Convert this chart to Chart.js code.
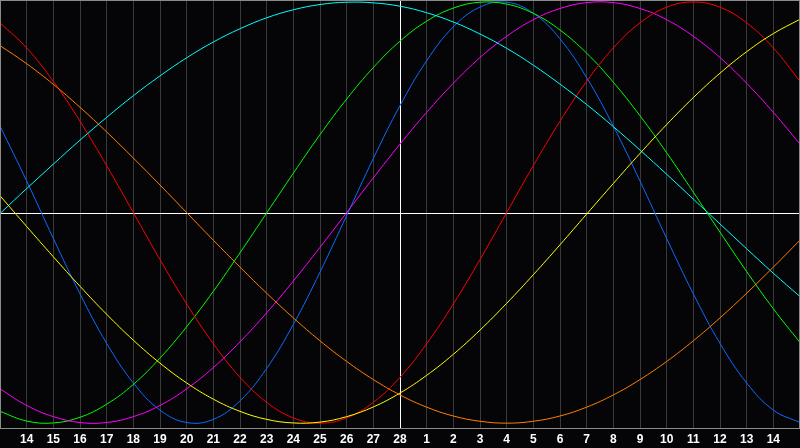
<!DOCTYPE html>
<html>
<head>
<meta charset="utf-8">
<script src="https://cdn.jsdelivr.net/npm/chart.js@4/dist/chart.umd.min.js"></script>
<style>
html,body{margin:0;padding:0;background:#050508;}
#wrap{width:800px;height:448px;position:relative;}
</style>
</head>
<body>
<div id="wrap"><canvas id="c"></canvas></div>
<script>
// day offsets relative to the marked day (28)
const days = [-15,-14,-13,-12,-11,-10,-9,-8,-7,-6,-5,-4,-3,-2,-1,0,1,2,3,4,5,6,7,8,9,10,11,12,13,14,15];
const tickLabels = ['14','15','16','17','18','19','20','21','22','23','24','25','26','27','28','1','2','3','4','5','6','7','8','9','10','11','12','13','14'];

const physical     = [41.1,15.0,-12.3,-38.6,-62.1,-80.9,-93.8,-99.7,-98.2,-89.4,-74.0,-53.1,-28.3,-1.4,25.7,50.8,72.1,88.2,97.6,99.9,94.7,82.5,64.1,41.1,15.0,-12.3,-38.6,-62.1,-80.9,-93.8,-99.7];
const emotional    = [90.1,78.2,62.3,43.4,22.3,0,-22.3,-43.4,-62.3,-78.2,-90.1,-97.5,-100,-97.5,-90.1,-78.2,-62.3,-43.4,-22.3,0,22.3,43.4,62.3,78.2,90.1,97.5,100,97.5,90.1,78.2,62.3];
const intellectual = [-94.4,-99.0,-99.9,-97.2,-91.0,-81.6,-69.1,-54.2,-37.4,-19.1,-0.2,18.7,37.0,53.9,68.9,81.4,90.9,97.1,99.9,99.0,94.6,86.7,75.7,61.9,46.0,28.4,9.7,-9.3,-28.0,-45.7,-61.7];
const intuitive    = [-83.7,-91.6,-96.9,-99.7,-99.7,-96.9,-91.6,-83.7,-73.6,-61.4,-47.6,-32.5,-16.5,0,16.5,32.5,47.6,61.4,73.6,83.7,91.6,96.9,99.7,99.7,96.9,91.6,83.7,73.6,61.4,47.6,32.5];
const aesthetic    = [8.0,-6.6,-21.0,-35.0,-48.3,-60.6,-71.5,-80.9,-88.6,-94.4,-98.2,-99.9,-99.5,-96.9,-92.3,-85.7,-77.3,-67.3,-55.8,-43.1,-29.5,-15.3,-0.7,13.8,28.1,41.8,54.6,66.2,76.4,85.0,91.8];
const awareness    = [79.3,70.7,60.9,50.0,38.3,25.9,13.1,0,-13.1,-25.9,-38.3,-50.0,-60.9,-70.7,-79.3,-86.6,-92.4,-96.6,-99.1,-100,-99.1,-96.6,-92.4,-86.6,-79.3,-70.7,-60.9,-50.0,-38.3,-25.9,-13.1];
const spiritual    = [-0.5,11.4,23.0,34.4,45.2,55.5,64.9,73.5,81.0,87.3,92.5,96.3,98.8,99.9,99.6,98.0,94.9,90.5,84.8,78.0,70.0,61.0,51.3,40.8,29.7,18.2,6.4,-5.4,-17.2,-28.8,-39.9];

const seriesNames  = ['awareness','aesthetic','spiritual','emotional','intuitive','intellectual','physical'];
const seriesValues = [awareness, aesthetic, spiritual, emotional, intuitive, intellectual, physical];
const seriesColors = ['#ff7f00','#ffff00','#00ffff','#ff0000','#ff00ff','#00ff00','#0a6cff'];

const datasets = seriesValues.map((vals, i) => ({
  label: seriesNames[i],
  data: vals.map((v, j) => ({x: days[j], y: v})),
  borderColor: seriesColors[i],
  borderWidth: 1,
  pointRadius: 0,
  tension: 0.4,
  fill: false
}));

const bgPlugin = {
  id: 'bg',
  beforeDraw(chart) {
    const ctx = chart.ctx;
    ctx.save();
    ctx.fillStyle = '#050508';
    ctx.fillRect(0, 0, chart.width, chart.height);
    ctx.restore();
  },
  beforeDatasetsDraw(chart) {
    const ctx = chart.ctx, a = chart.chartArea;
    const y0 = Math.round(chart.scales.y.getPixelForValue(0)) + 0.5;
    const x0 = Math.round(chart.scales.x.getPixelForValue(0)) + 0.5;
    ctx.save();
    ctx.strokeStyle = '#ffffff';
    ctx.lineWidth = 1;
    ctx.beginPath();
    ctx.moveTo(a.left, y0); ctx.lineTo(a.right, y0);
    ctx.moveTo(x0, a.top); ctx.lineTo(x0, a.bottom);
    ctx.stroke();
    ctx.restore();
  },
  afterDraw(chart) {
    const ctx = chart.ctx, a = chart.chartArea;
    ctx.save();
    ctx.strokeStyle = '#8a8a8a';
    ctx.lineWidth = 1;
    ctx.strokeRect(a.left + 0.5, a.top + 0.5, a.right - a.left - 1, a.bottom - a.top);
    ctx.restore();
  }
};

new Chart(document.getElementById('c'), {
  type: 'line',
  data: { datasets },
  options: {
    responsive: true,
    maintainAspectRatio: false,
    animation: false,
    devicePixelRatio: 1,
    layout: { padding: 0 },
    plugins: { legend: { display: false }, tooltip: { enabled: false } },
    scales: {
      x: {
        type: 'linear',
        min: -15, max: 15,
        afterBuildTicks(scale) {
          scale.ticks = days.filter(d => d >= -14 && d <= 14).map(d => ({value: d}));
        },
        afterFit(scale) { scale.height = 20; },
        ticks: {
          autoSkip: false,
          maxRotation: 0,
          padding: 4,
          color: '#ffffff',
          font: { family: '"Liberation Sans", Arial, sans-serif', size: 12, weight: 'bold' },
          callback: (v) => tickLabels[v + 14]
        },
        grid: {
          color: '#3a3a3a',
          lineWidth: 1,
          drawTicks: false
        },
        border: { display: false }
      },
      y: {
        display: false,
        min: -102.3, max: 100.95
      }
    }
  },
  plugins: [bgPlugin]
});
</script>
</body>
</html>
